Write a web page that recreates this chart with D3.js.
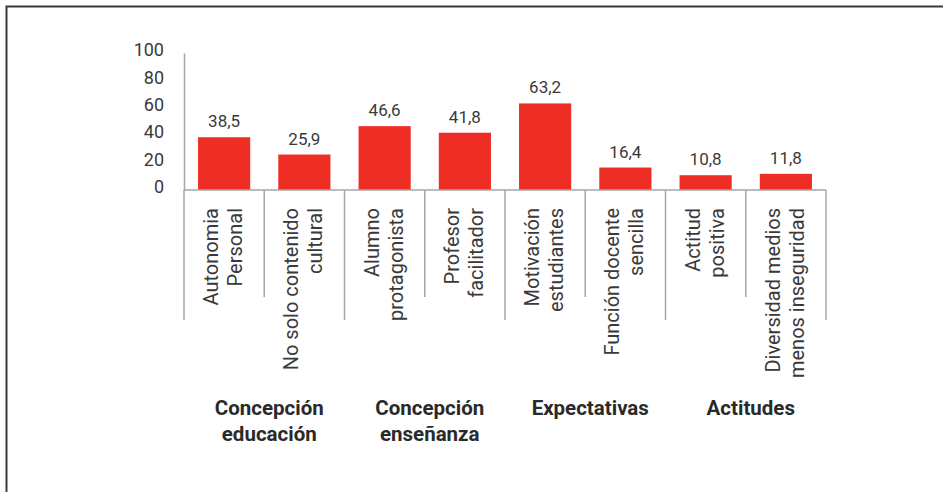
<!DOCTYPE html>
<html>
<head>
<meta charset="utf-8">
<script src="https://cdn.jsdelivr.net/npm/d3@7"></script>
<style>
  body { margin: 0; background: #fff; }
  svg { display: block; font-family: Roboto, "DejaVu Sans", sans-serif; }
</style>
</head>
<body>
<svg id="chart" width="943" height="492"></svg>
<script>
// data
const categories = [
  ["Autonomia", "Personal"],
  ["No solo contenido", "cultural"],
  ["Alumno", "protagonista"],
  ["Profesor", "facilitador"],
  ["Motivación", "estudiantes"],
  ["Función docente", "sencilla"],
  ["Actitud", "positiva"],
  ["Diversidad medios", "menos inseguridad"]
]
const values = [38.5, 25.9, 46.6, 41.8, 63.2, 16.4, 10.8, 11.8]
const groups = [
  ["Concepción", "educación"],
  ["Concepción", "enseñanza"],
  ["Expectativas"],
  ["Actitudes"]
]
const yTicks = [0, 20, 40, 60, 80, 100]

const svg = d3.select('#chart')
const red = '#ee2e24'
const axisColor = '#a6a6a6'
const textColor = '#3a3a3a'

const es = d3.formatLocale({ decimal: ',', thousands: '.', grouping: [3], currency: ['', '€'] })
const fmt = es.format('.1f')

// frame (left and top edges only)
svg.append('path')
  .attr('d', 'M6.5,492V6.5H943')
  .attr('fill', 'none')
  .attr('stroke', '#3a3a3a')
  .attr('stroke-width', 2)

const x = d3.scaleBand()
  .domain(d3.range(values.length))
  .range([184, 826])
  .paddingInner(0.35)
  .paddingOuter(0.175)

const y = d3.scaleLinear().domain([0, 100]).range([190, 53])

// y axis
const yAxis = svg.append('g')
  .attr('transform', `translate(${x.range()[0]},0)`)
  .call(d3.axisLeft(y).tickValues(yTicks).tickSize(0).tickSizeOuter(0).tickPadding(20))
yAxis.select('.domain').attr('stroke', axisColor).attr('stroke-width', 1.5)
yAxis.selectAll('text')
  .attr('fill', textColor)
  .attr('font-size', 18)
  .attr('font-family', 'Roboto, sans-serif')
  .attr('dy', '0.15em')

// bars
svg.selectAll('rect.bar')
  .data(values)
  .enter().append('rect')
  .attr('class', 'bar')
  .attr('x', (d, i) => x(i))
  .attr('y', d => y(d))
  .attr('width', x.bandwidth())
  .attr('height', d => y(0) - y(d))
  .attr('fill', red)

// value labels
svg.selectAll('text.val')
  .data(values)
  .enter().append('text')
  .attr('class', 'val')
  .attr('x', (d, i) => x(i) + x.bandwidth() / 2)
  .attr('y', d => y(d) - 10)
  .attr('text-anchor', 'middle')
  .attr('font-size', 17)
  .attr('fill', textColor)
  .text(d => fmt(d))

// baseline and category separators
const x0 = x.range()[0]
const step = x.step()
svg.append('line')
  .attr('x1', x0).attr('x2', x.range()[1])
  .attr('y1', y(0)).attr('y2', y(0))
  .attr('stroke', axisColor).attr('stroke-width', 1.5)

svg.selectAll('line.sep')
  .data(d3.range(values.length + 1))
  .enter().append('line')
  .attr('class', 'sep')
  .attr('x1', i => x0 + i * step).attr('x2', i => x0 + i * step)
  .attr('y1', y(0))
  .attr('y2', i => i % 2 === 0 ? 320 : 297)
  .attr('stroke', axisColor).attr('stroke-width', 1.5)

// rotated category labels
const cat = svg.selectAll('g.cat')
  .data(categories)
  .enter().append('g')
  .attr('class', 'cat')
  .attr('transform', (d, i) => `translate(${x(i) + x.bandwidth() / 2},208) rotate(-90)`)

cat.selectAll('text')
  .data(d => d)
  .enter().append('text')
  .attr('x', 0)
  .attr('y', (d, j) => -6 + j * 24)
  .attr('text-anchor', 'end')
  .attr('font-size', 20)
  .attr('fill', textColor)
  .text(d => d)

// group labels, centred under each pair of bars
const grp = svg.selectAll('g.grp')
  .data(groups)
  .enter().append('g')
  .attr('class', 'grp')
  .attr('transform', (d, i) => `translate(${x0 + (2 * i + 1) * step + 5},415)`)

grp.selectAll('text')
  .data(d => d)
  .enter().append('text')
  .attr('y', (d, j) => j * 26)
  .attr('text-anchor', 'middle')
  .attr('font-size', 20.5)
  .attr('font-weight', 'bold')
  .attr('fill', '#2a2a2a')
  .text(d => d)
</script>
</body>
</html>
